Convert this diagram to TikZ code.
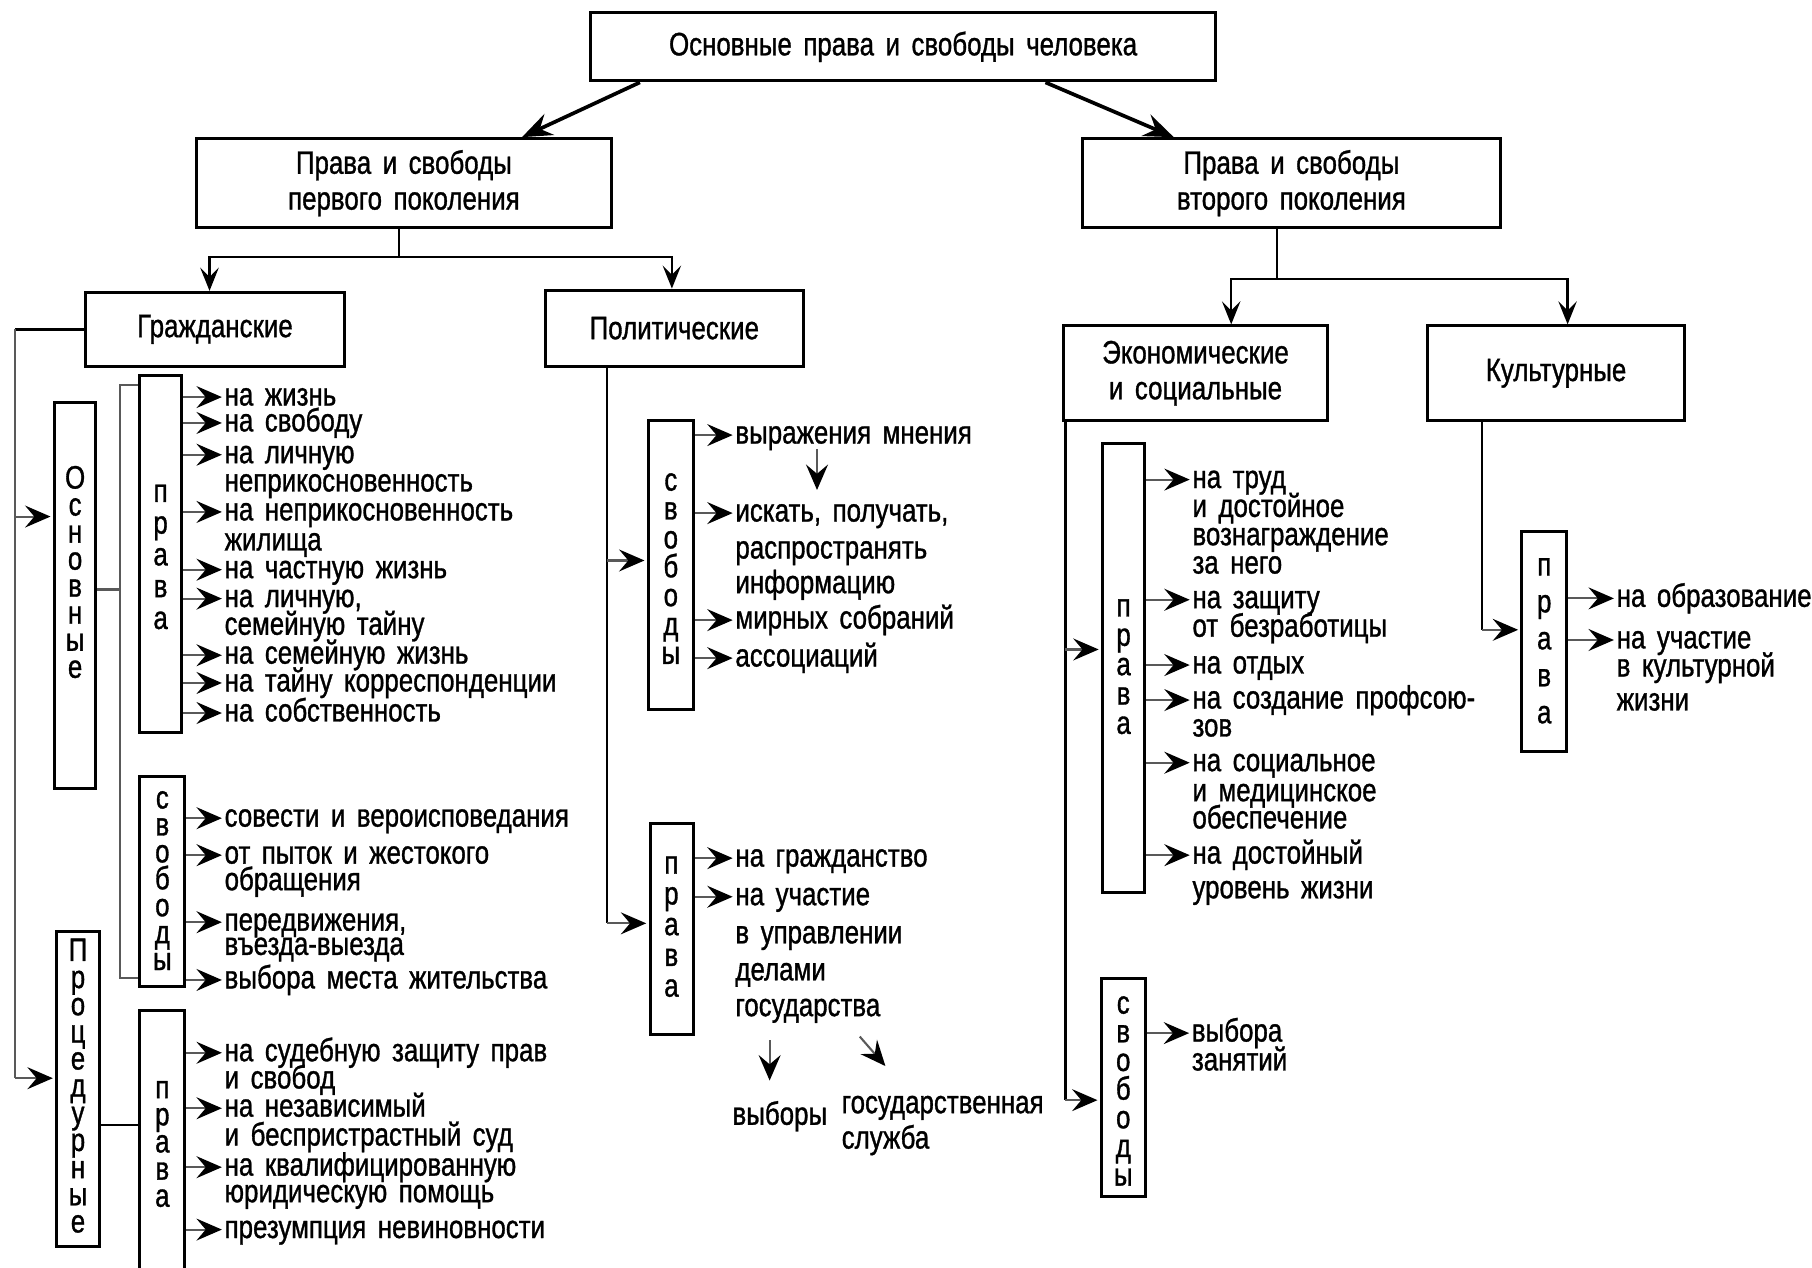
\documentclass[tikz,border=0pt]{standalone}
\usepackage{fontspec}
\setmainfont{Liberation Sans}[FakeStretch=0.8,FakeBold=1,WordSpace=1.6]
\usetikzlibrary{arrows.meta,fit,calc}
\newcommand\myfont{\fontsize{14}{15.5}\selectfont}
\tikzset{
 bx/.style={draw, line width=1.3pt, inner sep=0pt},
 bxt/.style={inner sep=0pt, align=center, font=\myfont},
 it/.style={anchor=west, inner sep=0pt, text height=7.3pt, text depth=0pt, font=\myfont},
 vl/.style={inner sep=0pt, align=center, font={\fontsize{14}{#1}\selectfont}},
 arr/.style={line width=0.9pt, draw=black!65, -{Stealth[length=11pt,width=9.5pt,inset=4pt,black]}, shorten >=1pt},
 ln/.style={line width=1pt},
 gln/.style={line width=1pt, draw=black!65},
 bigarr/.style={line width=1.6pt, -{Stealth[length=13pt,width=10pt,inset=4.5pt]}},
 darr/.style={line width=1pt, -{Stealth[length=10pt,width=8pt,inset=4pt]}},
}
\newcommand\mbx[6]{\node[bx, fit={(#2,#3) (#4,#5)}] (#1) {}; \node[bxt] (#1t) at (#1.center) {#6};}
\begin{document}
\begin{tikzpicture}[x=0.5pt,y=-0.5pt]
\useasboundingbox (0,0) rectangle (1568,1097);
\fill[white] (0,0) rectangle (1568,1097);
% ---------- main boxes
\mbx{top}{511}{11}{1052}{70}{Основные права и свободы человека}
\mbx{lg}{170}{120}{529}{197}{Права и свободы\\первого поколения}
\mbx{rg}{937}{120}{1298}{197}{Права и свободы\\второго поколения}
\mbx{civ}{74}{253}{298}{317}{Гражданские}
\mbx{pol}{472}{251}{695}{317}{Политические}
\mbx{eco}{920}{282}{1149}{364}{Экономические\\и социальные}
\mbx{cul}{1235}{282}{1458}{364}{Культурные}
% ---------- top arrows
\draw[bigarr] ($(top.south west)+(44,0)$) -- ($(lg.north west)+(283,0)$);
\draw[bigarr] ($(top.south west)+(395,0)$) -- ($(rg.north west)+(80,0)$);
% first generation split
\coordinate (lgj) at (345,222.6);
\draw[ln] (lgj |- lg.south) -- (lgj);
\draw[darr] (lgj) -| ($(civ.north west)+(108.6,0)$);
\draw[darr] (lgj) -| ($(pol.north west)+(110.7,0)$);
% second generation split
\coordinate (rgj) at (1105,241.7);
\draw[ln] (rgj |- rg.south) -- (rgj);
\draw[darr] (rgj) -| ($(eco.north west)+(146.7,0)$);
\draw[darr] (rgj) -| ($(cul.north west)+(122.8,0)$);
% ---------- left column boxes
\mbx{osn}{47}{348}{83}{682}{}
\node[vl=11.7pt] (osnl) at (65,495) {О\\с\\н\\о\\в\\н\\ы\\е};
\mbx{pr1}{121}{325}{157}{634}{}
\node[vl=13.75pt] (pr1l) at (139,482) {п\\р\\а\\в\\а};
\mbx{sv1}{121}{672}{160}{854}{}
\node[vl=11.65pt] (sv1l) at (140.5,762) {с\\в\\о\\б\\о\\д\\ы};
\mbx{proc}{49}{806}{86}{1079}{}
\node[vl=11.75pt] (procl) at (67.5,939.5) {П\\р\\о\\ц\\е\\д\\у\\р\\н\\ы\\е};
\mbx{pr3}{121}{874}{160}{1100}{}
\node[vl=11.75pt] (pr3l) at (140.5,990) {п\\р\\а\\в\\а};
% left connectors
\coordinate (lcorner) at (13,285);
\coordinate (lbot) at (13,933);
\coordinate (la1) at (13,447);
\draw[ln] (civ.west |- lcorner) -- (lcorner);
\draw[gln] (lcorner) -- (lbot);
\draw[arr] (la1) -- (la1 -| osn.west);
\draw[arr] (lbot) -- (lbot -| proc.west);
\coordinate (bj) at (104,510);
\coordinate (bt) at (104,333);
\coordinate (bb) at (104,846);
\draw[gln] (bj -| osn.east) -- (bj);
\draw[gln] (bt -| pr1.west) -- (bt) -- (bb) -- (bb -| sv1.west);
\coordinate (pj) at (0,973.5);
\draw[ln] (pj -| proc.east) -- (pj -| pr3.west);
% left items
\node[it] (i11) at (194,343.6) {на жизнь};
\node[it] (i12) at (194,366) {на свободу};
\node[it] (i13) at (194,393.5) {на личную};
\node[it] (i13b) at (194,418) {неприкосновенность};
\node[it] (i14) at (194,443) {на неприкосновенность};
\node[it] (i14b) at (194,469) {жилища};
\node[it] (i15) at (194,493) {на частную жизнь};
\node[it] (i16) at (194,518) {на личную,};
\node[it] (i16b) at (194,542) {семейную тайну};
\node[it] (i17) at (194,567) {на семейную жизнь};
\node[it] (i18) at (194,591) {на тайну корреспонденции};
\node[it] (i19) at (194,617) {на собственность};
\foreach \n in {i11,i12,i13,i14,i15,i16,i17,i18,i19}
  \draw[arr] (pr1.east |- \n.west) -- (\n.west);
\node[it] (s11) at (194,708) {совести и вероисповедания};
\node[it] (s12) at (194,740) {от пыток и жестокого};
\node[it] (s12b) at (194,763) {обращения};
\node[it] (s13) at (194,798) {передвижения,};
\node[it] (s13b) at (194,819) {въезда-выезда};
\node[it] (s14) at (194,848) {выбора места жительства};
\foreach \n in {s11,s12,s13,s14}
  \draw[arr] (sv1.east |- \n.west) -- (\n.west);
\node[it] (p31) at (194,911) {на судебную защиту прав};
\node[it] (p31b) at (194,934.6) {и свобод};
\node[it] (p32) at (194,959) {на независимый};
\node[it] (p32b) at (194,984) {и беспристрастный суд};
\node[it] (p33) at (194,1010) {на квалифицированную};
\node[it] (p33b) at (194,1033) {юридическую помощь};
\node[it] (p34) at (194,1064) {презумпция невиновности};
\foreach \n in {p31,p32,p33,p34}
  \draw[arr] (pr3.east |- \n.west) -- (\n.west);
% ---------- political
\mbx{sv2}{561}{364}{600}{614}{}
\node[vl=12.5pt] (sv2l) at (580.5,492) {с\\в\\о\\б\\о\\д\\ы};
\mbx{pr2}{562.5}{713}{600}{895}{}
\node[vl=13.3pt] (pr2l) at (581,802) {п\\р\\а\\в\\а};
\coordinate (pm) at (525,485);
\coordinate (pb) at (525,799);
\draw[ln] (pb |- pol.south) -- (pb);
\draw[arr] (pm) -- (pm -| sv2.west);
\draw[arr] (pb) -- (pb -| pr2.west);
\node[it] (q1) at (636,376.5) {выражения мнения};
\node[it] (q2) at (636,444) {искать, получать,};
\node[it] (q2b) at (636,476) {распространять};
\node[it] (q2c) at (636,506) {информацию};
\node[it] (q3) at (636,536.6) {мирных собраний};
\node[it] (q4) at (636,569.5) {ассоциаций};
\foreach \n in {q1,q2,q3,q4}
  \draw[arr] (sv2.east |- \n.west) -- (\n.west);
\draw[arr] ($(q1.west)+(71,12)$) -- ($(q2.west)+(71,-18)$);
\node[it] (r1) at (636,742.6) {на гражданство};
\node[it] (r2) at (636,776) {на участие};
\node[it] (r2b) at (636,809) {в управлении};
\node[it] (r2c) at (636,841) {делами};
\node[it] (r2d) at (636,872) {государства};
\foreach \n in {r1,r2}
  \draw[arr] (pr2.east |- \n.west) -- (\n.west);
\node[it] (vyb) at (633.5,966) {выборы};
\node[it] (gs) at (728,956) {государственная};
\node[it] (gsb) at (728,986.6) {служба};
\draw[arr] ($(r2d.west)+(30,28)$) -- ($(r2d.west)+(30,65)$);
\draw[arr] ($(r2d.west)+(108,25)$) -- ($(r2d.west)+(131.5,52)$);
% ---------- economic
\mbx{pr4}{954}{384}{990.7}{772}{}
\node[vl=12.7pt] (pr4l) at (972.3,577) {п\\р\\а\\в\\а};
\mbx{sv3}{953}{846.5}{991}{1035}{}
\node[vl=12.4pt] (sv3l) at (972,944) {с\\в\\о\\б\\о\\д\\ы};
\coordinate (em) at (922,562);
\coordinate (eb) at (922,952);
\draw[ln] (eb |- eco.south) -- (eb);
\draw[arr] (em) -- (em -| pr4.west);
\draw[arr] (eb) -- (eb -| sv3.west);
\node[it] (e1) at (1031.5,415) {на труд};
\node[it] (e1b) at (1031.5,440) {и достойное};
\node[it] (e1c) at (1031.5,464.5) {вознаграждение};
\node[it] (e1d) at (1031.5,489) {за него};
\node[it] (e2) at (1031.5,519) {на защиту};
\node[it] (e2b) at (1031.5,543.7) {от безработицы};
\node[it] (e3) at (1031.5,575.5) {на отдых};
\node[it] (e4) at (1031.5,605.8) {на создание профсою-};
\node[it] (e4b) at (1031.5,630) {зов};
\node[it] (e5) at (1031.5,660) {на социальное};
\node[it] (e5b) at (1031.5,686) {и медицинское};
\node[it] (e5c) at (1031.5,709.6) {обеспечение};
\node[it] (e6) at (1031.5,740) {на достойный};
\node[it] (e6b) at (1031.5,770) {уровень жизни};
\foreach \n in {e1,e2,e3,e4,e5,e6}
  \draw[arr] (pr4.east |- \n.west) -- (\n.west);
\node[it] (f1) at (1031,894) {выбора};
\node[it] (f1b) at (1031,919) {занятий};
\draw[arr] (sv3.east |- f1.west) -- (f1.west);
% ---------- cultural
\mbx{pr5}{1317}{459.5}{1355.6}{650}{}
\node[vl=16pt] (pr5l) at (1336.3,554.6) {п\\р\\а\\в\\а};
\coordinate (cc) at (1282.6,545);
\draw[ln] (cc |- cul.south) -- (cc);
\draw[arr] (cc) -- (cc -| pr5.west);
\node[it] (g1) at (1398.6,517.8) {на образование};
\node[it] (g2) at (1398.6,553.8) {на участие};
\node[it] (g2b) at (1398.6,578) {в культурной};
\node[it] (g2c) at (1398.6,607.5) {жизни};
\foreach \n in {g1,g2}
  \draw[arr] (pr5.east |- \n.west) -- (\n.west);
\end{tikzpicture}
\end{document}
